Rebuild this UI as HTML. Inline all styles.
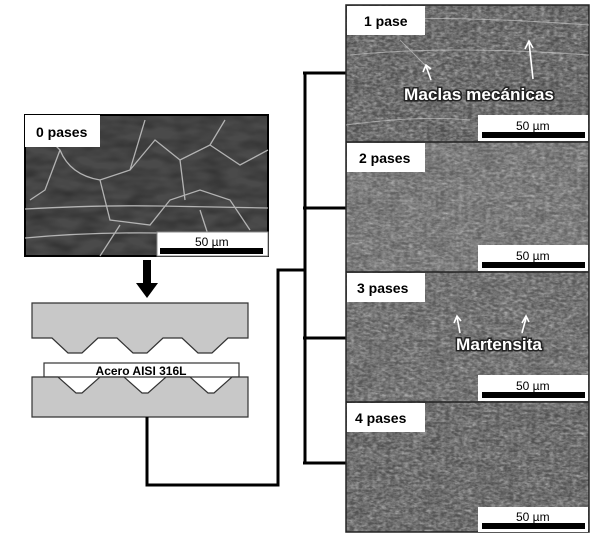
<!DOCTYPE html>
<html><head><meta charset="utf-8"><style>
html,body{margin:0;padding:0;background:#fff;}
svg{display:block;}
text{font-family:"Liberation Sans",Arial,sans-serif;}
</style></head><body>
<svg width="600" height="544" viewBox="0 0 600 544" xmlns="http://www.w3.org/2000/svg">
<defs>
<filter id="n1" x="0" y="0" width="100%" height="100%">
<feTurbulence type="fractalNoise" baseFrequency="0.22 0.4" numOctaves="3" seed="3"/>
<feColorMatrix type="matrix" values="0 0 0 0 0.55 0 0 0 0 0.55 0 0 0 0 0.55 0.7 0.7 0.7 0 -0.8"/>
</filter>
<filter id="n2" x="0" y="0" width="100%" height="100%">
<feTurbulence type="fractalNoise" baseFrequency="0.04 0.1" numOctaves="2" seed="7"/>
<feColorMatrix type="matrix" values="0 0 0 0 0 0 0 0 0 0 0 0 0 0 0 0.6 0 0 0 -0.2"/>
</filter>
</defs>

<!-- 0 pases image -->
<rect x="25" y="115" width="243" height="141" fill="#4a4a4a" stroke="#000" stroke-width="2"/>
<rect x="25" y="115" width="243" height="141" filter="url(#n2)"/>
<g stroke="#cfcfcf" stroke-width="1.3" fill="none" opacity="0.8">
<path d="M25 209 Q100 205 160 206 T268 208"/>
<path d="M25 238 Q90 232 160 233"/>
<path d="M60 150 Q70 175 100 180 L130 170 L155 140 L180 160 L210 145 L240 165 L268 150"/>
<path d="M100 180 L110 220 L150 225 L170 200 L200 190 L230 200 L250 230"/>
<path d="M130 170 L145 120 M180 160 L185 200 M210 145 L225 120 M120 225 L100 256 M200 210 L215 256"/>
<path d="M40 130 L60 150 L45 190 L30 200"/>
</g>
<rect x="25" y="115" width="75" height="32" fill="#fff"/>
<text x="36" y="137" font-size="14" font-weight="bold">0 pases</text>
<rect x="157" y="232" width="111" height="24" fill="#fff" stroke="#888" stroke-width="1"/>
<text x="195" y="246" font-size="12">50 µm</text>
<rect x="160" y="248" width="103" height="6" fill="#000"/>

<!-- arrow -->
<rect x="143" y="260" width="8" height="24" fill="#000"/>
<polygon points="136,283 158,283 147,298" fill="#000"/>

<!-- press -->
<path d="M32 303 H248 V338 H228 L212 353 H198 L182 338 H163 L147 353 H133 L117 338 H98 L82 353 H68 L52 338 H32 Z" fill="#c8c8c8" stroke="#333" stroke-width="1.2"/>
<rect x="44" y="363" width="195" height="14" fill="#fff" stroke="#333" stroke-width="1.2"/>
<text x="141" y="375" font-size="12" font-weight="bold" text-anchor="middle">Acero AISI 316L</text>
<path d="M32 377 H58 L76 393 H82 L100 377 H124 L142 393 H148 L166 377 H190 L208 393 H214 L232 377 H248 V417 H32 Z" fill="#c8c8c8" stroke="#333" stroke-width="1.2"/>

<!-- connectors -->
<g stroke="#000" stroke-width="3" fill="none">
<path d="M147 417 V485 H278 V270 H305"/>
<path d="M305 73 V463"/>
<path d="M303 73 H347 M303 208 H347 M303 338 H347 M303 463 H347"/>
</g>

<!-- right panels -->
<g>
<rect x="346" y="5" width="243" height="137" fill="#5a5a5a"/>
<rect x="346" y="142" width="243" height="130" fill="#6e6e6e"/>
<rect x="346" y="272" width="243" height="130" fill="#636363"/>
<rect x="346" y="402" width="243" height="130" fill="#5c5c5c"/>
<rect x="346" y="5" width="243" height="527" filter="url(#n1)"/>
<rect x="346" y="5" width="243" height="527" filter="url(#n2)" opacity="0.5"/>
<path d="M346 5 H589 V532 H346 Z M346 142 H589 M346 272 H589 M346 402 H589" fill="none" stroke="#222" stroke-width="1.5"/>
</g>
<g stroke="#d0d0d0" stroke-width="1" fill="none" opacity="0.6">
<path d="M360 20 Q450 15 589 25"/><path d="M350 55 Q450 45 589 55"/><path d="M400 40 L430 70"/><path d="M346 125 Q420 115 470 120"/>
</g>

<!-- labels -->
<rect x="347" y="6" width="78" height="29" fill="#fff"/>
<text x="364" y="26" font-size="14" font-weight="bold">1 pase</text>
<rect x="347" y="143" width="78" height="29" fill="#fff"/>
<text x="359" y="163" font-size="14" font-weight="bold">2 pases</text>
<rect x="347" y="273" width="78" height="29" fill="#fff"/>
<text x="357" y="293" font-size="14" font-weight="bold">3 pases</text>
<rect x="347" y="403" width="78" height="29" fill="#fff"/>
<text x="355" y="423" font-size="14" font-weight="bold">4 pases</text>

<!-- scale bars -->
<g>
<rect x="478" y="115" width="110" height="26" fill="#fff"/>
<text x="516" y="130" font-size="12">50 µm</text>
<rect x="482" y="132" width="103" height="6" fill="#000"/>
<rect x="478" y="245" width="110" height="26" fill="#fff"/>
<text x="516" y="260" font-size="12">50 µm</text>
<rect x="482" y="262" width="103" height="6" fill="#000"/>
<rect x="478" y="375" width="110" height="26" fill="#fff"/>
<text x="516" y="390" font-size="12">50 µm</text>
<rect x="482" y="392" width="103" height="6" fill="#000"/>
<rect x="478" y="507" width="110" height="25" fill="#fff"/>
<text x="516" y="521" font-size="12">50 µm</text>
<rect x="482" y="523" width="103" height="6" fill="#000"/>
</g>

<!-- annotations -->
<g stroke="#fff" stroke-width="1.6" fill="none">
<path d="M431 80 L426 66 M423 72 L426 65 L431 69"/>
<path d="M533 79 L529 42 M525 49 L529 41 L533 48"/>
<path d="M460 333 L457 317 M454 323 L457 316 L461 321"/>
<path d="M522 333 L526 318 M522 323 L526 316 L529 322"/>
</g>
<text x="404" y="100" font-size="17" font-weight="bold" fill="#fff" stroke="#222" stroke-width="3" paint-order="stroke" textLength="150" lengthAdjust="spacingAndGlyphs">Maclas mecánicas</text>
<text x="456" y="350" font-size="17" font-weight="bold" fill="#fff" stroke="#222" stroke-width="3" paint-order="stroke" textLength="86" lengthAdjust="spacingAndGlyphs">Martensita</text>
</svg>
</body></html>
